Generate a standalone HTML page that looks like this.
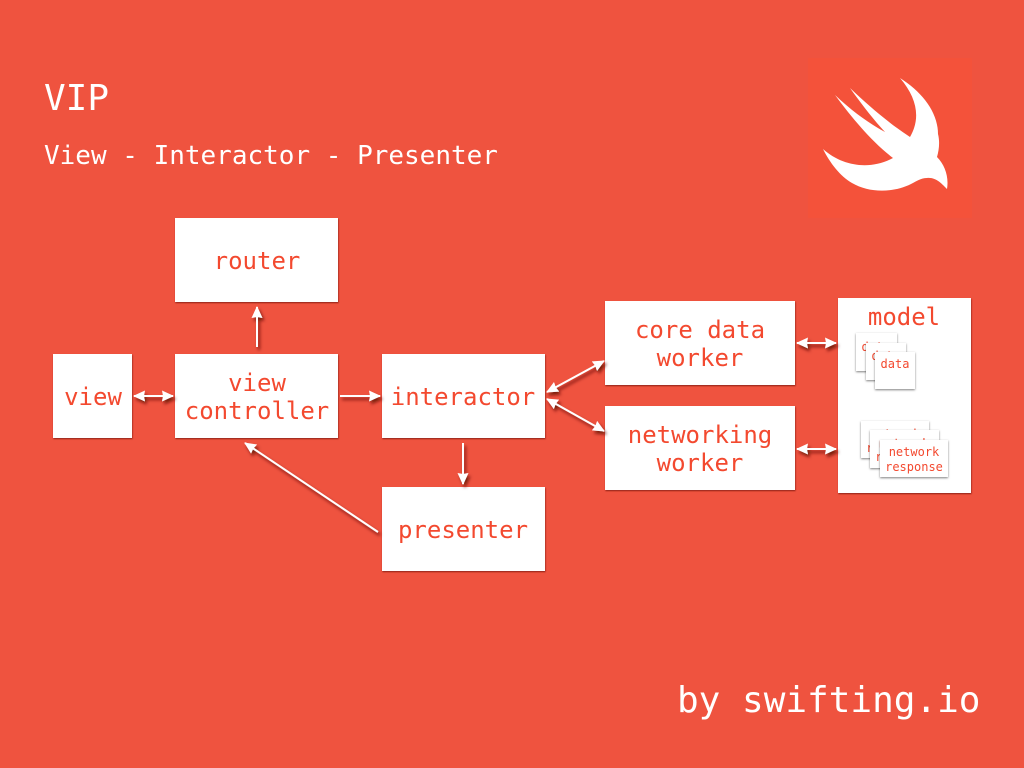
<!DOCTYPE html>
<html><head><meta charset="utf-8"><style>
html,body{margin:0;padding:0;background:#EF533F;width:1024px;height:768px;overflow:hidden}
svg{display:block}
text{font-family:"DejaVu Sans Mono","Liberation Mono",monospace}
.b{fill:#F3492F;font-size:24px;text-anchor:middle}
.s{fill:#F3492F;font-size:12px;text-anchor:middle}
.w{fill:#fff}
.a line{stroke:#fff;stroke-width:2}
</style></head><body>
<svg width="1024" height="768" viewBox="0 0 1024 768" xmlns="http://www.w3.org/2000/svg">
<defs>
<filter id="sh" x="-20%" y="-20%" width="140%" height="140%"><feDropShadow dx="0.5" dy="1" stdDeviation="0.9" flood-color="#7a1608" flood-opacity=".85"/></filter>
<filter id="sa" x="-50%" y="-50%" width="200%" height="200%"><feDropShadow dx="2" dy="3" stdDeviation="1.5" flood-color="#5e1006" flood-opacity=".8"/></filter>
<filter id="ss" x="-20%" y="-20%" width="140%" height="140%"><feDropShadow dx="0" dy="1" stdDeviation="1" flood-color="#000" flood-opacity=".5"/></filter>
<marker id="h" viewBox="0 0 12 11" refX="11" refY="5.5" markerWidth="12" markerHeight="11" markerUnits="userSpaceOnUse" orient="auto-start-reverse"><path d="M0 0L12 5.5L0 11L1 5.5Z" fill="#fff"/></marker>
</defs>
<rect width="1024" height="768" fill="#EF533F"/>
<rect x="808" y="58" width="164" height="160" fill="#F4523A"/>
<path d="M900 78C922 92 938 112 938 134C940 142 939 150 937 157C945 165 949 177 947 189C942 184 936 177 927 178C921 178 917 181 911 184C893 193 869 193 852 183C840 176 830 163 823 149C843 167 871 170 893 158C872 142 852 118 835 95C853 112 870 124 885 132C872 118 860 102 850 88C870 107 890 124 910 137C921 118 917 98 900 78Z" fill="#fff"/>
<text x="44" y="110" font-size="36" fill="#fff">VIP</text>
<text x="44" y="164" font-size="26" fill="#fff">View - Interactor - Presenter</text>
<text x="677" y="712" font-size="36" fill="#fff">by swifting.io</text>

<g filter="url(#sh)" class="w">
<rect x="175" y="218" width="163" height="84"/>
<rect x="53" y="354" width="79" height="84"/>
<rect x="175" y="354" width="163" height="84"/>
<rect x="382" y="354" width="163" height="84"/>
<rect x="382" y="487" width="163" height="84"/>
<rect x="605" y="301" width="190" height="84"/>
<rect x="605" y="406" width="190" height="84"/>
<rect x="838" y="298" width="133" height="195"/>
</g>

<text class="b" x="257" y="269">router</text>
<text class="b" x="93" y="405">view</text>
<text class="b" x="257" y="391">view</text>
<text class="b" x="257" y="419">controller</text>
<text class="b" x="463" y="405">interactor</text>
<text class="b" x="463" y="538">presenter</text>
<text class="b" x="700" y="338">core data</text>
<text class="b" x="700" y="366">worker</text>
<text class="b" x="700" y="443">networking</text>
<text class="b" x="700" y="471">worker</text>
<text class="b" x="904" y="325">model</text>

<rect x="856" y="333" width="41" height="38" class="w" filter="url(#ss)"/>
<text class="s" x="876" y="351">data</text>
<rect x="866" y="343" width="40" height="37" class="w" filter="url(#ss)"/>
<text class="s" x="886" y="360">data</text>
<rect x="875" y="352" width="40" height="37" class="w" filter="url(#ss)"/>
<text class="s" x="895" y="368">data</text>

<rect x="861" y="421" width="68" height="37" class="w" filter="url(#ss)"/>
<text class="s" x="895" y="438">network</text><text class="s" x="895" y="452">response</text>
<rect x="870" y="430" width="69" height="38" class="w" filter="url(#ss)"/>
<text class="s" x="904" y="447.5">network</text><text class="s" x="904" y="461">response</text>
<rect x="880" y="440" width="68" height="37" class="w" filter="url(#ss)"/>
<text class="s" x="914" y="456">network</text><text class="s" x="914" y="471">response</text>

<g class="a" filter="url(#sa)">
<line x1="134" y1="396" x2="173" y2="396" marker-start="url(#h)" marker-end="url(#h)"/>
<line x1="257" y1="347" x2="257" y2="307" marker-end="url(#h)"/>
<line x1="340" y1="396" x2="380" y2="396" marker-end="url(#h)"/>
<line x1="463" y1="443" x2="463" y2="484" marker-end="url(#h)"/>
<line x1="378" y1="532" x2="245" y2="443" marker-end="url(#h)"/>
<line x1="547" y1="392" x2="604" y2="361" marker-start="url(#h)" marker-end="url(#h)"/>
<line x1="547" y1="399" x2="604" y2="431" marker-start="url(#h)" marker-end="url(#h)"/>
<line x1="797" y1="343" x2="836" y2="343" marker-start="url(#h)" marker-end="url(#h)"/>
<line x1="797" y1="449" x2="836" y2="449" marker-start="url(#h)" marker-end="url(#h)"/>
</g>
</svg>
</body></html>
